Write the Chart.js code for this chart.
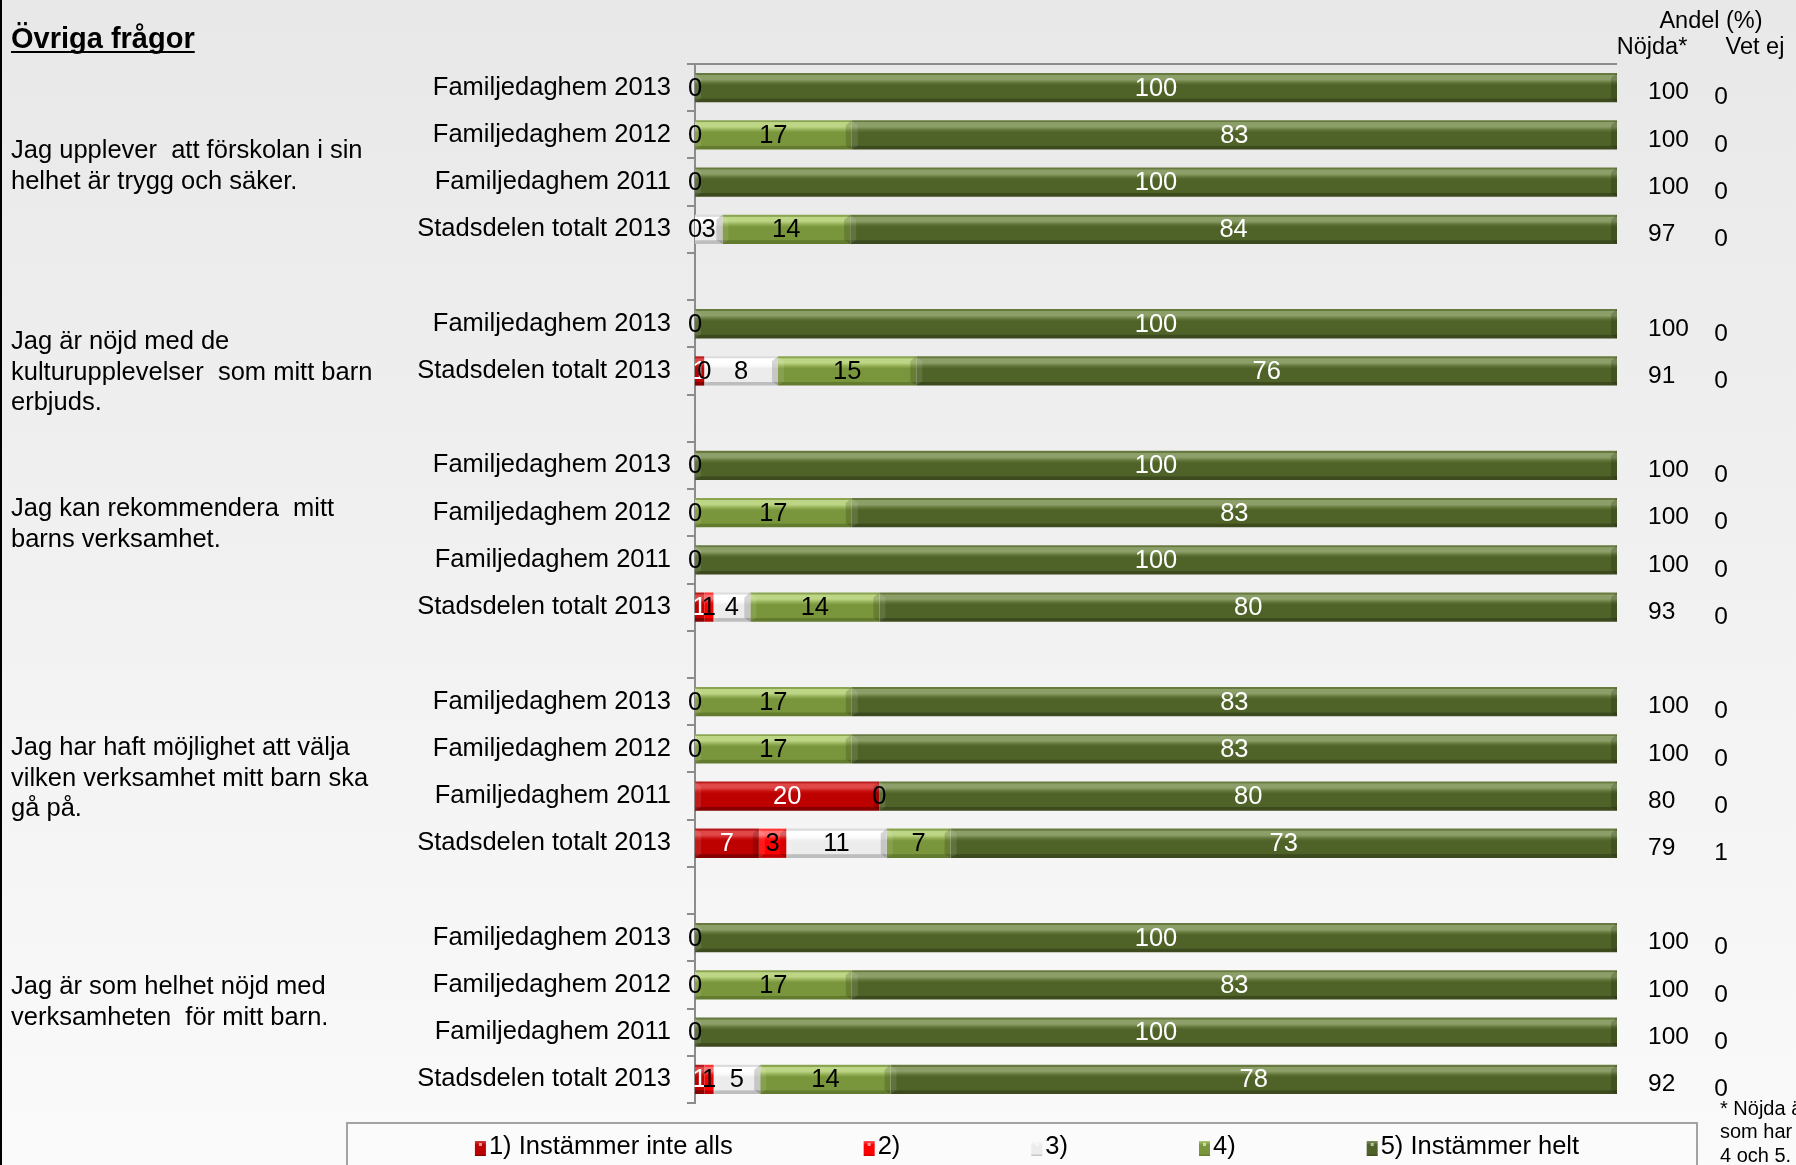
<!DOCTYPE html>
<html><head><meta charset="utf-8">
<script src="https://cdn.jsdelivr.net/npm/chart.js@4.4.1/dist/chart.umd.min.js"></script>
<style>
html,body{margin:0;padding:0;background:#eeeeee;}
#wrap{position:relative;width:1796px;height:1165px;overflow:hidden;}
canvas{display:block;}
</style></head><body>
<div id="wrap"><canvas id="c" width="1796" height="1165"></canvas></div>
<script>
// ---------- DATA ----------
const categories = [
  'Familjedaghem 2013','Familjedaghem 2012','Familjedaghem 2011','Stadsdelen totalt 2013','',
  'Familjedaghem 2013','Stadsdelen totalt 2013','',
  'Familjedaghem 2013','Familjedaghem 2012','Familjedaghem 2011','Stadsdelen totalt 2013','',
  'Familjedaghem 2013','Familjedaghem 2012','Familjedaghem 2011','Stadsdelen totalt 2013','',
  'Familjedaghem 2013','Familjedaghem 2012','Familjedaghem 2011','Stadsdelen totalt 2013'
];
const seriesNames = ['1) Instämmer inte alls','2)','3)','4)','5) Instämmer helt'];
const s1 = [0,0,0,0,null, 0,1,null, 0,0,0,1,null, 0,0,20,7,null, 0,0,0,1];
const s2 = [0,0,0,0,null, 0,0,null, 0,0,0,1,null, 0,0,0,3,null, 0,0,0,1];
const s3 = [0,0,0,3,null, 0,8,null, 0,0,0,4,null, 0,0,0,11,null, 0,0,0,5];
const s4 = [0,17,0,14,null, 0,15,null, 0,17,0,14,null, 17,17,0,7,null, 0,17,0,14];
const s5 = [100,83,100,84,null, 100,76,null, 100,83,100,80,null, 83,83,80,73,null, 100,83,100,78];
const nojda = [100,100,100,97,null, 100,91,null, 100,100,100,93,null, 100,100,80,79,null, 100,100,100,92];
const vetEj = [0,0,0,0,null, 0,0,null, 0,0,0,0,null, 0,0,0,1,null, 0,0,0,0];
const questions = [
  ['Jag upplever  att förskolan i sin','helhet är trygg och säker.'],
  ['Jag är nöjd med de','kulturupplevelser  som mitt barn','erbjuds.'],
  ['Jag kan rekommendera  mitt','barns verksamhet.'],
  ['Jag har haft möjlighet att välja','vilken verksamhet mitt barn ska','gå på.'],
  ['Jag är som helhet nöjd med','verksamheten  för mitt barn.']
];
const titleText = 'Övriga frågor';
const headerTexts = ['Andel (%)','Nöjda*','Vet ej'];
const footnote = ['* Nöjda är de','som har svarat','4 och 5.'];

// ---------- STYLE ----------
const FONT = '"Liberation Sans", Arial, sans-serif';
const FS = 25.5;
const raw = [s1,s2,s3,s4,s5];
// 100% stacked: normalise each row for plotting, labels keep raw values
const plotted = raw.map(s => s.map((v,j) => {
  if (v === null) return null;
  const tot = raw.reduce((a,r)=>a+(r[j]||0),0);
  return tot ? v/tot*100 : 0;
}));
const palettes = [
  {edge:'#b81c1c', hi:'#e04848', hi2:'#c80e0e', base:'#bd0000', dark:'#870000', label:'#ffffff'},
  {edge:'#ff3434', hi:'#ff7070', hi2:'#ff1414', base:'#ff0000', dark:'#c20000', label:'#000000'},
  {edge:'#dcdcdc', hi:'#ffffff', hi2:'#f8f8f8', base:'#ececec', dark:'#bdbdbd', label:'#000000'},
  {edge:'#8aa452', hi:'#bdd686', hi2:'#90ac52', base:'#7a963c', dark:'#637b2e', label:'#000000'},
  {edge:'#68793f', hi:'#8c9f68', hi2:'#5f7336', base:'#4f6228', dark:'#3c4a1e', label:'#ffffff'}
];
const BAR_PCT = 0.62;

function barFill(ctx, pal){
  const chart = ctx.chart, ys = chart.scales && chart.scales.y;
  if (!ys || ctx.type !== 'data') return pal.base;
  const yc = ys.getPixelForValue(ctx.dataIndex);
  const slot = Math.abs(ys.getPixelForValue(1) - ys.getPixelForValue(0));
  const bh = slot * BAR_PCT;
  const top = yc - bh/2, bot = yc + bh/2;
  if (!isFinite(top) || !isFinite(bot) || bot - top < 1) return pal.base;
  const g = chart.ctx.createLinearGradient(0, top, 0, bot);
  g.addColorStop(0, pal.edge); g.addColorStop(0.06, pal.edge);
  g.addColorStop(0.08, pal.hi); g.addColorStop(0.22, pal.hi);
  g.addColorStop(0.34, pal.hi2); g.addColorStop(0.42, pal.base);
  g.addColorStop(0.86, pal.base); g.addColorStop(0.89, pal.dark); g.addColorStop(1, pal.dark);
  return g;
}

const decor = {
  id: 'decor',
  beforeDraw(chart){
    const c = chart.ctx, W = chart.width, H = chart.height;
    c.save();
    const g = c.createLinearGradient(0,0,0,H);
    g.addColorStop(0,'#e8e8e8'); g.addColorStop(1,'#fafafa');
    c.fillStyle = g; c.fillRect(0,0,W,H);
    c.fillStyle = '#000'; c.fillRect(0,0,2,H);
    c.restore();
  },
  afterDatasetsDraw(chart){
    const c = chart.ctx;
    c.save();
    // end bevels
    chart.data.datasets.forEach((ds,i) => {
      const meta = chart.getDatasetMeta(i);
      meta.data.forEach((el,j) => {
        if (raw[i][j] === null || !raw[i][j]) return;
        const p = el.getProps(['x','y','base','height'], true);
        const w = p.x - p.base; if (w < 10) return;
        const t = p.y - p.height/2, b = p.y + p.height/2;
        c.fillStyle = 'rgba(0,0,0,0.16)';
        c.beginPath(); c.moveTo(p.x-6, t+5); c.lineTo(p.x, t); c.lineTo(p.x, b); c.lineTo(p.x-6, b-4); c.closePath(); c.fill();
        c.fillStyle = 'rgba(255,255,255,0.10)';
        c.beginPath(); c.moveTo(p.base, t); c.lineTo(p.base+6, t+5); c.lineTo(p.base+6, b-4); c.lineTo(p.base, b); c.closePath(); c.fill();
      });
    });
    // value labels
    c.font = FS + 'px ' + FONT;
    c.textAlign = 'center'; c.textBaseline = 'middle';
    chart.data.datasets.forEach((ds,i) => {
      const meta = chart.getDatasetMeta(i);
      meta.data.forEach((el,j) => {
        const v = raw[i][j];
        if (v === null) return;
        if (v === 0 && i !== 1) return;
        const p = el.getProps(['x','y','base'], true);
        c.fillStyle = palettes[i].label;
        c.fillText(String(v), (p.x + p.base)/2, p.y + 1);
      });
    });
    c.restore();
  },
  afterDraw(chart){
    const c = chart.ctx, ca = chart.chartArea, ys = chart.scales.y;
    c.save();
    // top frame line
    c.strokeStyle = '#8c8c8c'; c.lineWidth = 2;
    c.beginPath(); c.moveTo(ca.left, ca.top); c.lineTo(ca.right, ca.top); c.stroke();
    // title
    c.fillStyle = '#000';
    c.font = 'bold 29px ' + FONT; c.textAlign = 'left'; c.textBaseline = 'alphabetic';
    c.fillText(titleText, 11, 48);
    const tw = c.measureText(titleText).width;
    c.fillRect(11, 51, tw, 2);
    // question texts
    c.font = FS + 'px ' + FONT; c.textBaseline = 'middle';
    const qY = [151, 342, 509, 748, 987];
    questions.forEach((lines,qi) => lines.forEach((ln,k) => c.fillText(ln, 11, qY[qi] + k*30.5)));
    // header
    c.font = '23.5px ' + FONT; c.textAlign = 'center';
    c.fillText(headerTexts[0], 1711, 22);
    c.fillText(headerTexts[1], 1652, 48);
    c.fillText(headerTexts[2], 1755, 48);
    // side values
    c.font = '24.5px ' + FONT;
    categories.forEach((cat,j) => {
      if (nojda[j] === null) return;
      const y = ys.getPixelForValue(j);
      c.textAlign = 'left'; c.fillText(String(nojda[j]), 1648, y + 5);
      c.textAlign = 'center'; c.fillText(String(vetEj[j]), 1721, y + 10);
    });
    // legend
    c.fillStyle = '#fbfbfb'; c.fillRect(347, 1123, 1350, 60);
    c.strokeStyle = '#a3a3a3'; c.lineWidth = 2; c.strokeRect(347, 1123, 1350, 60);
    c.font = FS + 'px ' + FONT; c.textAlign = 'left';
    const mk = 11, gapT = 3, gapI = 131;
    const widths = seriesNames.map(n => mk + gapT + c.measureText(n).width);
    const total = widths.reduce((a,b)=>a+b,0) + gapI*(widths.length-1);
    let x = 1027 - total/2;
    const ly = 1147;
    seriesNames.forEach((n,i) => {
      const pal = palettes[i];
      const g = c.createLinearGradient(0, ly-7, 0, ly+9);
      g.addColorStop(0, pal.hi); g.addColorStop(0.3, pal.base); g.addColorStop(0.85, pal.base); g.addColorStop(1, pal.dark);
      c.fillStyle = g; c.fillRect(x, ly-6, mk, 15);
      c.fillStyle = 'rgba(255,255,255,0.6)'; c.fillRect(x+4, ly-4, 3, 3);
      c.fillStyle = '#000'; c.fillText(n, x + mk + gapT, ly);
      x += widths[i] + gapI;
    });
    // footnote
    c.font = '20px ' + FONT; c.textAlign = 'left';
    footnote.forEach((ln,k) => c.fillText(ln, 1720, 1109 + k*23.5));
    c.restore();
  }
};

new Chart(document.getElementById('c'), {
  type: 'bar',
  data: {
    labels: categories,
    datasets: seriesNames.map((name,i) => ({
      label: name,
      data: plotted[i],
      backgroundColor: ctx => barFill(ctx, palettes[i]),
      borderWidth: 0,
      barPercentage: BAR_PCT,
      categoryPercentage: 1.0
    }))
  },
  options: {
    indexAxis: 'y',
    responsive: false,
    animation: false,
    devicePixelRatio: 1,
    layout: { padding: { left: 0, top: 64, right: 179, bottom: 62 } },
    plugins: { legend: { display: false }, tooltip: { enabled: false } },
    scales: {
      x: { type: 'linear', stacked: true, min: 0, max: 100, display: false },
      y: {
        type: 'category', stacked: true, offset: true,
        grid: { display: true, offset: true, drawOnChartArea: false, drawTicks: true, tickLength: 8, color: '#8c8c8c', lineWidth: 2 },
        border: { display: true, color: '#8c8c8c', width: 2 },
        ticks: { font: { family: FONT, size: FS }, color: '#000', padding: 16, autoSkip: false },
        afterFit(scale){ scale.width = 695; }
      }
    }
  },
  plugins: [decor]
});
</script>
</body></html>
